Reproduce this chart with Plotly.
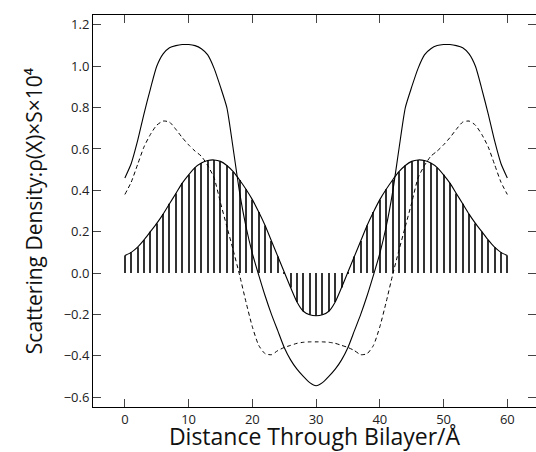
import plotly.graph_objects as go

# Distance through bilayer (Å)
distance = list(range(0, 61))

# Solid curve
solid_density = [
    0.46, 0.53, 0.64, 0.77, 0.89, 1.00, 1.06, 1.09, 1.10, 1.105,
    1.105, 1.10, 1.085, 1.055, 0.99, 0.90, 0.80, 0.60, 0.39, 0.225,
    0.095, -0.01, -0.11, -0.20, -0.28, -0.36, -0.42, -0.465, -0.50, -0.53,
    -0.545,
    -0.53, -0.50, -0.465, -0.42, -0.36, -0.28, -0.20, -0.11, -0.01, 0.095,
    0.225, 0.39, 0.60, 0.80, 0.90, 0.99, 1.055, 1.085, 1.10, 1.105,
    1.105, 1.10, 1.09, 1.06, 1.00, 0.89, 0.77, 0.64, 0.53, 0.46,
]

# Dashed curve
dashed_density = [
    0.38, 0.44, 0.525, 0.61, 0.67, 0.715, 0.735, 0.73, 0.695, 0.655,
    0.62, 0.59, 0.565, 0.52, 0.46, 0.34, 0.225, 0.11, -0.01, -0.14,
    -0.26, -0.35, -0.39, -0.395, -0.375, -0.36, -0.35, -0.34, -0.335, -0.333,
    -0.333,
    -0.333, -0.335, -0.34, -0.35, -0.36, -0.375, -0.395, -0.39, -0.35, -0.26,
    -0.14, -0.01, 0.11, 0.225, 0.34, 0.46, 0.52, 0.565, 0.59, 0.62,
    0.655, 0.695, 0.73, 0.735, 0.715, 0.67, 0.61, 0.525, 0.44, 0.38,
]

# Hatched curve
hatched_density = [
    0.085, 0.10, 0.125, 0.16, 0.20, 0.24, 0.285, 0.335, 0.385, 0.435,
    0.475, 0.51, 0.532, 0.544, 0.547, 0.54, 0.52, 0.49, 0.45, 0.405,
    0.355, 0.295, 0.23, 0.155, 0.08, 0.005, -0.07, -0.14, -0.185, -0.202,
    -0.207,
    -0.202, -0.185, -0.14, -0.07, 0.005, 0.08, 0.155, 0.23, 0.295, 0.355,
    0.405, 0.45, 0.49, 0.52, 0.54, 0.547, 0.544, 0.532, 0.51, 0.475,
    0.435, 0.385, 0.335, 0.285, 0.24, 0.20, 0.16, 0.125, 0.10, 0.085,
]

x_ticks = [0, 10, 20, 30, 40, 50, 60]
y_ticks = [-0.6, -0.4, -0.2, 0.0, 0.2, 0.4, 0.6, 0.8, 1.0, 1.2]

fig = go.Figure()

# vertical hatching under the hatched curve
fig.add_trace(go.Bar(
    x=distance, y=hatched_density, width=0.17,
    marker=dict(color="#333333", line=dict(width=0)),
    showlegend=False, hoverinfo="skip",
))
fig.add_trace(go.Scatter(
    x=distance, y=hatched_density, mode="lines",
    line=dict(color="black", width=1.1, shape="spline", smoothing=0.6),
    showlegend=False,
))
fig.add_trace(go.Scatter(
    x=distance, y=dashed_density, mode="lines",
    line=dict(color="black", width=1, dash="4px,3px", shape="spline", smoothing=0.6),
    showlegend=False,
))
fig.add_trace(go.Scatter(
    x=distance, y=solid_density, mode="lines",
    line=dict(color="black", width=1.1, shape="spline", smoothing=0.6),
    showlegend=False,
))

fig.update_layout(
    width=536, height=452,
    margin=dict(l=93, r=0, t=15, b=45, autoexpand=False),
    paper_bgcolor="white", plot_bgcolor="white",
    font=dict(color="#222222"),
    xaxis=dict(
        range=[-5, 64.5], tickvals=x_ticks,
        ticks="inside", ticklen=8,
        showline=True, linecolor="black", linewidth=1, mirror="allticks",
        showgrid=False, zeroline=False, automargin=False,
        tickfont=dict(size=13),
        title=dict(text="Distance Through Bilayer/Å", font=dict(size=23, color="#111111")),
    ),
    yaxis=dict(
        range=[-0.648, 1.248], tickvals=y_ticks, tickformat=".1f",
        ticks="inside", ticklen=8,
        showline=True, linecolor="black", linewidth=1, mirror="allticks",
        showgrid=False, zeroline=False, automargin=False,
        tickfont=dict(size=13),
        title=dict(text="Scattering Density:\u03c1(X)\u00d7S\u00d710\u2074",
                   font=dict(size=21, color="#111111")),
    ),
)

fig.write_html("out.html", config={"displayModeBar": False},
               post_script="document.body.style.margin='0';document.body.style.overflow='hidden';")
